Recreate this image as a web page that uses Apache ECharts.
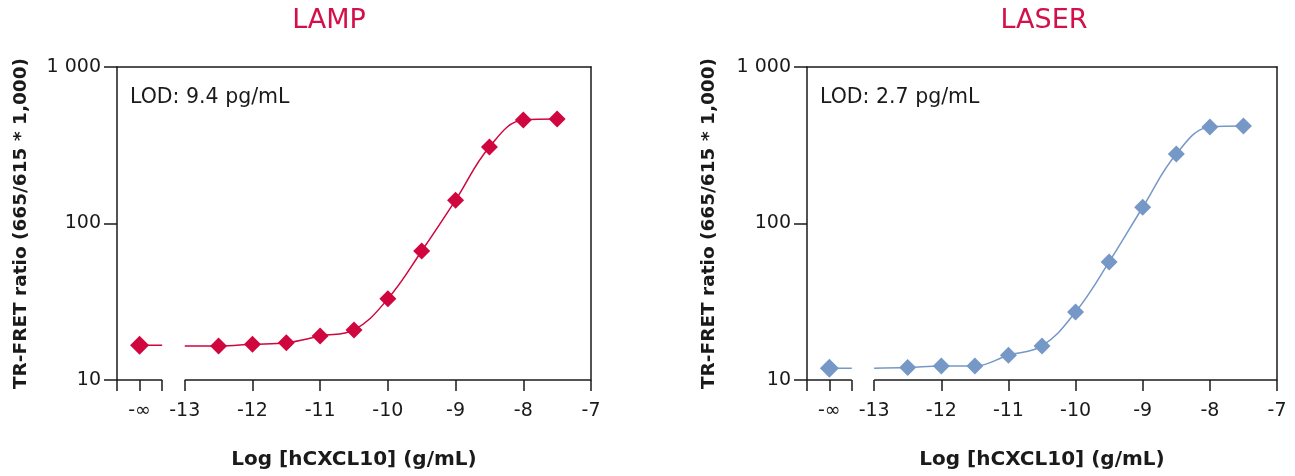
<!DOCTYPE html>
<html><head><meta charset="utf-8">
<script src="https://cdn.jsdelivr.net/npm/echarts@6/dist/echarts.min.js"></script>
<style>html,body{margin:0;padding:0;background:#fff}#c{width:1295px;height:476px}</style>
</head><body><div id="c"></div>
<script>
// ---- data ----
const panelTitles = ['LAMP', 'LASER'];
const lodLabels = ['LOD: 9.4 pg/mL', 'LOD: 2.7 pg/mL'];
const xAxisTitle = 'Log [hCXCL10] (g/mL)';
const yAxisTitle = 'TR-FRET ratio (665/615 * 1,000)';
const xMin = -14, xMax = -7;
const negInfPos = -13.667;           // position of the "-∞" (zero concentration) point
const breakStart = -13.333, breakEnd = -13;
const xTickValues = [-14, -13.667, -13.333, -13, -12, -11, -10, -9, -8, -7];
const xLabelValues = [-13.667, -13, -12, -11, -10, -9, -8, -7];
const yTickLabels = {10: '10', 100: '100', 1000: '1 000'};
const logConc = [-12.5, -12, -11.5, -11, -10.5, -10, -9.5, -9, -8.5, -8, -7.5];
const lampZero = 16.7;
const lampValues = [16.5, 16.9, 17.3, 19.1, 20.9, 33, 66.7, 141, 308, 458, 465];
const lampCurveStart = 16.5;
const laserZero = 11.9;
const laserValues = [12.0, 12.3, 12.3, 14.4, 16.5, 27.2, 56.8, 127, 278, 414, 420];
const laserCurveStart = 11.9;

const colors = ['#d0063f', '#7698c7'];
const titleColor = '#d3104a';
const FONT = 'DejaVu Sans';
const INK = '#1a1a1a';

const chart = echarts.init(document.getElementById('c'), null, {renderer: 'canvas'});

const grids = [
  {left: 117, right: 1295 - 591, top: 67, bottom: 476 - 380},
  {left: 807, right: 1295 - 1277, top: 67, bottom: 476 - 380}
];
const titleX = [329, 1044];
const yNameGap = [86, 88];

const xAxes = [], yAxes = [], series = [], graphics = [];
const panels = [
  {zero: lampZero, values: lampValues, start: lampCurveStart},
  {zero: laserZero, values: laserValues, start: laserCurveStart}
];

panels.forEach((p, i) => {
  xAxes.push({
    gridIndex: i, type: 'value', min: xMin, max: xMax, position: 'bottom',
    name: xAxisTitle, nameLocation: 'middle', nameGap: 70,
    nameTextStyle: {fontFamily: FONT, fontWeight: 'bold', fontSize: 20, color: INK},
    axisLine: {show: false, onZero: false},
    axisTick: {show: true, customValues: xTickValues, length: 11, lineStyle: {color: INK, width: 1.5}},
    axisLabel: {show: true, customValues: xLabelValues, margin: 22, fontFamily: FONT, fontSize: 19, color: INK,
      formatter: v => Math.abs(v - negInfPos) < 0.01 ? '-\u221E' : String(v)},
    splitLine: {show: false}
  });
  xAxes.push({
    gridIndex: i, type: 'value', min: xMin, max: xMax, position: 'top',
    axisLine: {show: true, onZero: false, lineStyle: {color: INK, width: 1.5}},
    axisTick: {show: false}, axisLabel: {show: false}, splitLine: {show: false}
  });
  yAxes.push({
    gridIndex: i, type: 'log', logBase: 10, min: 10, max: 1000, position: 'left',
    name: yAxisTitle, nameLocation: 'middle', nameGap: yNameGap[i], nameRotate: 90,
    nameTextStyle: {fontFamily: FONT, fontWeight: 'bold', fontSize: 18.5, color: INK},
    axisLine: {show: true, lineStyle: {color: INK, width: 1.5}},
    axisTick: {show: true, length: 13, lineStyle: {color: INK, width: 1.5}},
    minorTick: {show: false},
    axisLabel: {fontFamily: FONT, fontSize: 19, color: INK, margin: 16, formatter: v => yTickLabels[v] || String(v)},
    splitLine: {show: false}
  });
  yAxes.push({
    gridIndex: i, type: 'log', logBase: 10, min: 10, max: 1000, position: 'right',
    axisLine: {show: true, lineStyle: {color: INK, width: 1.5}},
    axisTick: {show: false}, axisLabel: {show: false}, splitLine: {show: false}
  });
  const xi = i * 2, yi = i * 2;
  // broken x axis line
  series.push({
    type: 'custom', xAxisIndex: xi, yAxisIndex: yi, clip: false, silent: true,
    encode: {x: [0, 1], y: 2},
    data: [[xMin, breakStart, 10], [breakEnd, xMax, 10]],
    renderItem: (params, api) => {
      const a = api.coord([api.value(0), api.value(2)]);
      const b = api.coord([api.value(1), api.value(2)]);
      return {type: 'line', shape: {x1: a[0], y1: a[1], x2: b[0], y2: b[1]},
        style: {stroke: INK, lineWidth: 1.5}};
    }
  });
  // zero-concentration segment
  series.push({
    type: 'line', xAxisIndex: xi, yAxisIndex: yi, showSymbol: false, silent: true,
    data: [[negInfPos, p.zero], [breakStart, p.zero]],
    lineStyle: {color: colors[i], width: 1.5}
  });
  // fitted curve
  series.push({
    type: 'line', xAxisIndex: xi, yAxisIndex: yi, showSymbol: false, silent: true,
    smooth: 0.4,
    data: [[breakEnd, p.start]].concat(logConc.map((x, k) => [x, p.values[k]])),
    lineStyle: {color: colors[i], width: 1.5}
  });
  // markers
  series.push({
    type: 'scatter', xAxisIndex: xi, yAxisIndex: yi, symbol: 'diamond', symbolSize: 17,
    data: logConc.map((x, k) => [x, p.values[k]]),
    itemStyle: {color: colors[i], opacity: 1}
  });
  series.push({
    type: 'scatter', xAxisIndex: xi, yAxisIndex: yi, symbol: 'diamond', symbolSize: 19,
    data: [[negInfPos, p.zero]],
    itemStyle: {color: colors[i], opacity: 1}
  });
  graphics.push({type: 'text', x: titleX[i], y: 21,
    style: {text: panelTitles[i], fill: titleColor, font: '27px "' + FONT + '"', textAlign: 'center', textVerticalAlign: 'middle'}});
  graphics.push({type: 'text', x: grids[i].left + 13, y: 98,
    style: {text: lodLabels[i], fill: INK, font: '20.5px "' + FONT + '"', textAlign: 'left', textVerticalAlign: 'middle'}});
});

chart.setOption({
  animation: false,
  backgroundColor: '#fff',
  grid: grids,
  xAxis: xAxes,
  yAxis: yAxes,
  series: series,
  graphic: graphics
});
</script></body></html>
